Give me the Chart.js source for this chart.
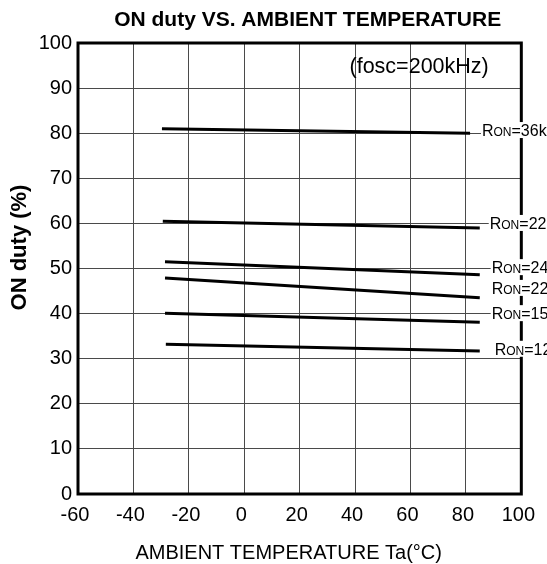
<!DOCTYPE html>
<html>
<head>
<meta charset="utf-8">
<script src="https://cdn.jsdelivr.net/npm/chart.js@4.4.1/dist/chart.umd.min.js"></script>
<style>
  html, body { margin: 0; padding: 0; background: #fff; }
  canvas { display: block; }
</style>
</head>
<body>
<canvas id="dutyChart" width="547" height="564"></canvas>
<script>
// Curve end points (Ta in °C, ON duty in %)
const taStart = [-29.7, -29.4, -28.6, -28.6, -28.6, -28.3];
const taEnd = [81.5, 85, 85, 85, 85, 85];
const dutyStart = [81.0, 60.5, 51.5, 47.9, 40.1, 33.2];
const dutyEnd = [80.0, 59.0, 48.6, 43.5, 38.1, 31.7];

// Curve labels, cut off by the right edge in the original
const ronValues = ["36kΩ", "22kΩ", "24kΩ", "22kΩ", "15kΩ", "12kΩ"];
const labelTa = [85.8, 88.6, 89.3, 89.3, 89.3, 90.4];
const labelDuty = [80.7, 60.1, 50.3, 45.7, 40.1, 32.2];

// Axis ticks
const tempTicks = [-60, -40, -20, 0, 20, 40, 60, 80, 100];
const dutyTicks = [0, 10, 20, 30, 40, 50, 60, 70, 80, 90, 100];

const chartTitle = "ON duty VS. AMBIENT TEMPERATURE";
const xTitle = "AMBIENT TEMPERATURE Ta(°C)";
const yTitle = "ON duty (%)";
const noteText = "(fosc=200kHz)";
const noteTa = 38;
const noteDuty = 94.7;

const FONT = "'Liberation Sans', Arial, Helvetica, sans-serif";

// one dataset per curve, straight line between the read end points
const datasets = dutyStart.map((d, i) => ({
  label: "RON=" + ronValues[i],
  data: [
    { x: taStart[i], y: d },
    { x: taEnd[i], y: dutyEnd[i] },
  ],
  borderColor: "#000",
  borderWidth: 3,
  pointRadius: 0,
  fill: false,
  tension: 0,
}));

// Frame, titles and curve labels
const notesPlugin = {
  id: "notes",
  afterDraw: (chart) => {
    const ctx = chart.ctx;
    const area = chart.chartArea;
    const xs = chart.scales.x;
    const ys = chart.scales.y;
    ctx.save();

    // heavy frame round the plot
    ctx.strokeStyle = "#000";
    ctx.lineWidth = 3;
    ctx.strokeRect(area.left, area.top, area.right - area.left, area.bottom - area.top);

    ctx.fillStyle = "#000";
    ctx.textAlign = "center";
    ctx.textBaseline = "middle";

    // chart title
    ctx.font = "bold 21px " + FONT;
    ctx.fillText(chartTitle, (area.left + area.right) / 2 + 8, 20);

    // x axis title
    ctx.font = "20px " + FONT;
    ctx.fillText(xTitle, (area.left + area.right) / 2 - 11, 553);

    // y axis title, rotated
    ctx.save();
    ctx.translate(20, (area.top + area.bottom) / 2 - 21);
    ctx.rotate(-Math.PI / 2);
    ctx.font = "bold 22px " + FONT;
    ctx.fillText(yTitle, 0, 0);
    ctx.restore();

    // oscillator note
    ctx.textAlign = "left";
    ctx.font = "21.5px " + FONT;
    ctx.fillText(noteText, xs.getPixelForValue(noteTa), ys.getPixelForValue(noteDuty));

    // RON labels with white backing over the frame
    ctx.textBaseline = "alphabetic";
    ronValues.forEach((v, i) => {
      const px = xs.getPixelForValue(labelTa[i]);
      const py = ys.getPixelForValue(labelDuty[i]);
      ctx.fillStyle = "#fff";
      ctx.fillRect(px - 1, py - 8, chart.width - px + 1, 16);
      ctx.fillStyle = "#000";
      let cx = px;
      ctx.font = "16px " + FONT;
      ctx.fillText("R", cx, py + 6);
      cx += ctx.measureText("R").width;
      ctx.font = "12px " + FONT;
      ctx.fillText("ON", cx, py + 6);
      cx += ctx.measureText("ON").width;
      ctx.font = "16px " + FONT;
      ctx.fillText("=" + v, cx, py + 6);
    });

    ctx.restore();
  },
};

const ctx = document.getElementById("dutyChart").getContext("2d");
const dutyChart = new Chart(ctx, {
  type: "line",
  data: { datasets: datasets },
  options: {
    responsive: false,
    animation: false,
    devicePixelRatio: 1,
    layout: { padding: { top: 43, right: 20, left: 0, bottom: 0 } },
    plugins: {
      legend: { display: false },
      title: { display: false },
      tooltip: { enabled: false },
    },
    scales: {
      x: {
        type: "linear",
        min: -60,
        max: 100,
        afterBuildTicks: (scale) => {
          scale.ticks = tempTicks.map((v) => ({ value: v }));
        },
        afterFit: (scale) => {
          scale.height = 70;
        },
        grid: { color: "#4a4a4a", lineWidth: 1, drawTicks: false },
        border: { display: false },
        ticks: {
          color: "#000",
          padding: 9,
          labelOffset: -3,
          maxRotation: 0,
          font: { family: FONT, size: 20 },
        },
      },
      y: {
        type: "linear",
        min: 0,
        max: 100,
        afterBuildTicks: (scale) => {
          scale.ticks = dutyTicks.map((v) => ({ value: v }));
        },
        afterFit: (scale) => {
          scale.width = 78;
        },
        grid: { color: "#4a4a4a", lineWidth: 1, drawTicks: false },
        border: { display: false },
        ticks: {
          color: "#000",
          padding: 6,
          font: { family: FONT, size: 20 },
        },
      },
    },
  },
  plugins: [notesPlugin],
});
</script>
</body>
</html>
